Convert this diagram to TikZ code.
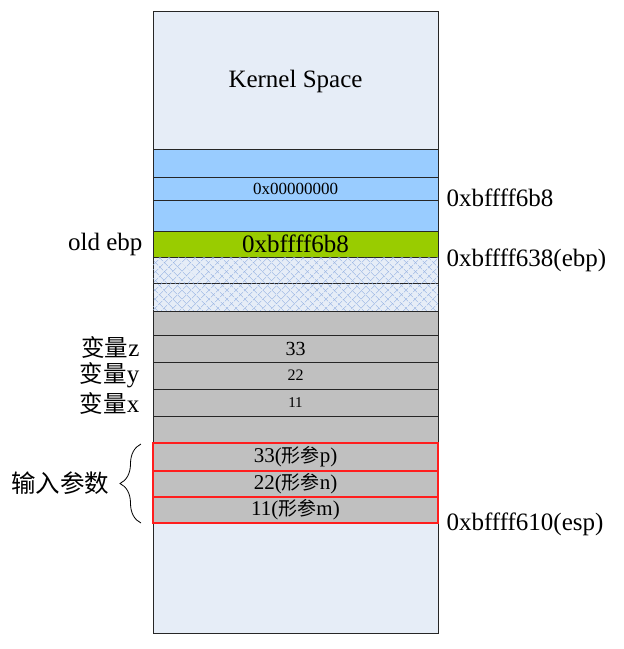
\documentclass[tikz,border=0pt]{standalone}
\usepackage{fontspec}
\setmainfont{Liberation Serif}
\newfontfamily\cjk{Noto Sans CJK SC}
\usetikzlibrary{patterns.meta,decorations.pathreplacing}

\definecolor{kernelbg}{RGB}{230,237,247}
\definecolor{stackblue}{RGB}{153,204,255}
\definecolor{oldgreen}{RGB}{153,204,0}
\definecolor{localgray}{RGB}{192,192,192}
\definecolor{argred}{RGB}{255,30,30}
\definecolor{hatchblue}{RGB}{150,178,226}

\begin{document}
\begin{tikzpicture}[
	x = 1pt,
	y = -1pt,
	row/.style = {
		draw = black!85,
		line width = 0.7pt,
		minimum width = 285pt,
		inner sep = 0pt,
		outer sep = 0pt,
		anchor = north west
	},
	hatched/.style = {
		fill = kernelbg,
		postaction = {pattern = {Lines[angle=45,distance=6.5pt,line width=0.45pt]}, pattern color = hatchblue},
		postaction = {pattern = {Lines[angle=-45,distance=6.5pt,line width=0.45pt]}, pattern color = hatchblue}
	},
	argrow/.style = {row, draw = none, fill = localgray, font = \fontsize{21}{24}\selectfont},
	redframe/.style = {draw = argred, line width = 1.2pt},
	big/.style = {font = \fontsize{25}{28}\selectfont}
	]
	\useasboundingbox (0,0) rectangle (624,649);
	\node[row, fill = kernelbg, minimum height = 622pt] (stack) at (153,11) {};
	\node[big] (kernel) at (295.5,81) {Kernel Space};

	% caller frame
	\node[row, fill = stackblue, minimum height = 28pt] (b1) at (153,149) {};
	\node[row, fill = stackblue, minimum height = 23pt, font = \fontsize{17}{20}\selectfont] (b2) at (153,177) {0x00000000};
	\node[row, fill = stackblue, minimum height = 31pt] (b3) at (153,200) {};
	\node[row, fill = oldgreen, minimum height = 26pt, big] (ebp) at (153,231) {0xbffff6b8};
	\node[row, hatched, minimum height = 26pt] (h1) at (153,257) {};
	\node[row, hatched, minimum height = 28pt] (h2) at (153,283) {};

	% locals
	\node[row, fill = localgray, minimum height = 24pt] (g1) at (153,311) {};
	\node[row, fill = localgray, minimum height = 27pt, font = \fontsize{20}{24}\selectfont] (z) at (153,335) {33};
	\node[row, fill = localgray, minimum height = 27pt, font = \fontsize{16}{19}\selectfont] (y) at (153,362) {22};
	\node[row, fill = localgray, minimum height = 27pt, font = \fontsize{15}{18}\selectfont] (x) at (153,389) {11};
	\node[row, fill = localgray, minimum height = 27pt] (g5) at (153,416) {};

	% arguments
	\node[argrow, minimum height = 28pt] (p) at (153,443) {33({\cjk\fontsize{19}{22}\selectfont 形参}p)};
	\node[argrow, minimum height = 26pt] (n) at (153,471) {22({\cjk\fontsize{19}{22}\selectfont 形参}n)};
	\node[argrow, minimum height = 26pt] (m) at (153,497) {11({\cjk\fontsize{19}{22}\selectfont 形参}m)};

	% addresses
	\node[big, anchor = base west] (addrtop) at (443,206) {0xbffff6b8};
	\node[big, anchor = base west] (addrebp) at (443,266) {0xbffff638(ebp)};
	\node[big, anchor = base west] (addresp) at (443,530) {0xbffff610(esp)};

	\node[big, anchor = base east] (oldebp) at (146,250) {old ebp};
	\node[big, anchor = east] (varz) at (143,347) {{\cjk\fontsize{23.5}{26}\selectfont 变量}z};
	\node[big, anchor = east] (vary) at (143,375) {{\cjk\fontsize{23.5}{26}\selectfont 变量}y};
	\node[big, anchor = east] (varx) at (143,403) {{\cjk\fontsize{23.5}{26}\selectfont 变量}x};

	\draw[line width = 0.8pt, decorate, decoration = {brace, amplitude = 21pt}]
		(141,523) -- node[left = 28pt, font = \cjk\fontsize{24.5}{28}\selectfont] (args) {输入参数} (141,444);

	% red frames of the argument words
	\draw[redframe] (p.north west) rectangle (p.south east);
	\draw[redframe] (n.north west) rectangle (n.south east);
	\draw[redframe] (m.north west) rectangle (m.south east);
\end{tikzpicture}
\end{document}
